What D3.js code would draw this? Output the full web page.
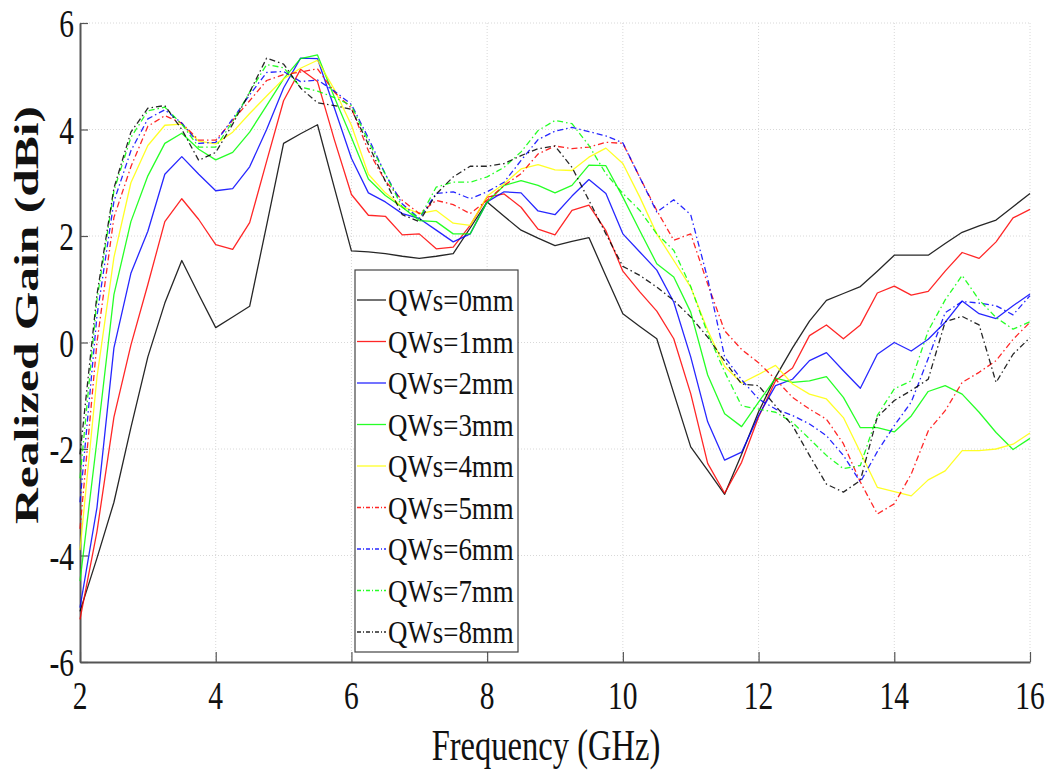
<!DOCTYPE html>
<html>
<head>
<meta charset="utf-8">
<script src="https://cdnjs.cloudflare.com/ajax/libs/d3/7.8.5/d3.min.js"></script>
<style>
  body { margin: 0; background: #fff; }
  text { font-family: "Liberation Serif", "Times New Roman", serif; fill: #111; }
</style>
</head>
<body>
<svg id="chart" width="1054" height="774"></svg>
<script>
// frequency samples (GHz)
var freq = [2, 2.25, 2.5, 2.75, 3, 3.25, 3.5, 3.75, 4, 4.25, 4.5, 4.75, 5, 5.25, 5.5, 5.75,
  6, 6.25, 6.5, 6.75, 7, 7.25, 7.5, 7.75, 8, 8.25, 8.5, 8.75, 9, 9.25, 9.5, 9.75,
  10, 10.25, 10.5, 10.75, 11, 11.25, 11.5, 11.75, 12, 12.25, 12.5, 12.75, 13, 13.25, 13.5, 13.75,
  14, 14.25, 14.5, 14.75, 15, 15.25, 15.5, 15.75, 16];

// realized gain (dBi)
var qw0 = [-5.05, -4.05, -3.0, -1.6, -0.27, 0.74, 1.54, 0.9, 0.28, 0.48, 0.68, 2.2, 3.74, 3.92, 4.09, 2.9,
  1.72, 1.7, 1.67, 1.62, 1.58, 1.62, 1.67, 2.15, 2.64, 2.37, 2.11, 1.96, 1.82, 1.9, 1.97, 1.25,
  0.54, 0.3, 0.07, -0.95, -1.96, -2.4, -2.85, -2.1, -1.3, -0.65, -0.1, 0.4, 0.79, 0.92, 1.05, 1.34,
  1.64, 1.64, 1.64, 1.86, 2.07, 2.19, 2.3, 2.55, 2.8];
var qw1 = [-5.2, -3.55, -1.4, -0.05, 1.09, 2.27, 2.7, 2.31, 1.84, 1.75, 2.25, 3.4, 4.54, 5.13, 4.9, 3.8,
  2.78, 2.39, 2.37, 2.02, 2.04, 1.76, 1.79, 2.2, 2.73, 2.79, 2.54, 2.13, 2.02, 2.48, 2.58, 2.1,
  1.34, 0.95, 0.59, 0.07, -0.96, -2.27, -2.83, -2.25, -1.4, -0.72, -0.48, 0.13, 0.33, 0.07, 0.33, 0.93,
  1.06, 0.89, 0.96, 1.34, 1.69, 1.58, 1.89, 2.34, 2.5];
var qw2 = [-4.98, -3.1, -0.1, 1.3, 2.09, 3.16, 3.49, 3.16, 2.85, 2.89, 3.3, 4.0, 4.78, 5.34, 5.33, 4.4,
  3.46, 2.81, 2.64, 2.42, 2.33, 2.11, 1.89, 2.04, 2.64, 2.83, 2.81, 2.47, 2.4, 2.75, 3.06, 2.8,
  2.04, 1.7, 1.36, 0.76, -0.27, -1.49, -2.21, -2.06, -1.37, -0.81, -0.69, -0.34, -0.19, -0.53, -0.86, -0.22,
  0.0, -0.16, 0.06, 0.38, 0.78, 0.54, 0.45, 0.69, 0.91];
var qw3 = [-4.48, -1.84, 0.9, 2.27, 3.13, 3.74, 3.93, 3.63, 3.43, 3.57, 3.95, 4.45, 4.95, 5.33, 5.4, 4.6,
  3.85, 3.07, 2.76, 2.54, 2.29, 2.27, 2.04, 2.04, 2.64, 2.95, 3.04, 2.95, 2.81, 2.95, 3.33, 3.32,
  2.73, 2.1, 1.48, 1.23, 0.57, -0.61, -1.34, -1.58, -1.12, -0.67, -0.75, -0.72, -0.64, -1.03, -1.6, -1.6,
  -1.68, -1.38, -0.92, -0.81, -0.97, -1.31, -1.69, -2.01, -1.8];
var qw4 = [-3.9, -0.65, 1.6, 3.0, 3.7, 4.08, 4.1, 3.78, 3.73, 3.95, 4.3, 4.63, 4.95, 5.15, 5.3, 4.75,
  4.08, 3.16, 2.81, 2.55, 2.42, 2.48, 2.24, 2.2, 2.75, 2.98, 3.26, 3.34, 3.24, 3.23, 3.48, 3.65,
  3.36, 2.73, 2.04, 1.54, 1.04, 0.23, -0.45, -0.76, -0.6, -0.43, -0.78, -0.97, -1.06, -1.41, -2.06, -2.72,
  -2.8, -2.88, -2.58, -2.41, -2.03, -2.03, -2.0, -1.91, -1.7];
var qw5 = [-3.5, 0.0, 2.35, 3.3, 4.06, 4.26, 4.12, 3.8, 3.8, 4.17, 4.54, 4.92, 5.03, 5.08, 5.14, 4.7,
  4.4, 3.6, 3.03, 2.67, 2.42, 2.67, 2.59, 2.42, 2.67, 2.95, 3.17, 3.54, 3.69, 3.64, 3.67, 3.76,
  3.74, 3.1, 2.48, 1.92, 2.04, 1.1, 0.22, -0.13, -0.38, -0.69, -1.03, -1.25, -1.44, -1.9, -2.62, -3.22,
  -3.03, -2.47, -1.66, -1.28, -0.75, -0.56, -0.34, 0.06, 0.38];
var qw6 = [-3.0, 0.5, 2.65, 3.6, 4.2, 4.37, 4.12, 3.74, 3.76, 4.2, 4.65, 5.07, 5.09, 4.9, 4.93, 4.72,
  4.47, 3.84, 3.16, 2.6, 2.33, 2.8, 2.83, 2.7, 2.83, 3.01, 3.42, 3.81, 3.97, 4.04, 3.96, 3.88,
  3.75, 3.1, 2.45, 2.68, 2.4, 1.2, -0.27, -0.7, -1.06, -1.25, -1.37, -1.53, -1.75, -2.12, -2.62, -2.05,
  -1.56, -1.12, -0.3, 0.56, 0.77, 0.74, 0.69, 0.52, 0.88];
var qw7 = [-2.55, 0.8, 2.85, 3.85, 4.35, 4.42, 4.1, 3.67, 3.67, 4.15, 4.7, 5.22, 5.16, 4.8, 4.72, 4.6,
  4.45, 3.78, 3.16, 2.54, 2.33, 2.92, 3.01, 3.01, 3.11, 3.29, 3.58, 3.98, 4.17, 4.11, 3.7, 3.17,
  2.8, 2.48, 2.04, 1.73, 1.05, 0.17, -0.55, -1.19, -1.25, -1.31, -1.5, -1.81, -2.12, -2.37, -2.31, -1.37,
  -0.87, -0.72, 0.22, 0.8, 1.26, 0.8, 0.47, 0.25, 0.39];
var qw8 = [-2.1, 0.9, 2.9, 3.95, 4.4, 4.45, 4.0, 3.42, 3.57, 4.1, 4.7, 5.34, 5.23, 4.78, 4.5, 4.45,
  4.38, 3.72, 3.03, 2.4, 2.27, 2.79, 3.11, 3.31, 3.31, 3.36, 3.51, 3.64, 3.69, 3.29, 2.67, 2.04,
  1.43, 1.26, 1.04, 0.79, 0.48, 0.1, -0.35, -0.78, -0.81, -1.19, -1.56, -2.12, -2.66, -2.81, -2.59, -1.4,
  -1.09, -0.9, -0.69, 0.39, 0.49, 0.33, -0.75, -0.22, 0.09];

var seriesNames = ["QWs=0mm", "QWs=1mm", "QWs=2mm", "QWs=3mm", "QWs=4mm",
  "QWs=5mm", "QWs=6mm", "QWs=7mm", "QWs=8mm"];
var seriesColors = ["#000000", "#ff0000", "#0000ff", "#00ff00", "#ffff00",
  "#ff0000", "#0000ff", "#00ff00", "#000000"];
var seriesDashed = [false, false, false, false, false, true, true, true, true];
var seriesValues = [qw0, qw1, qw2, qw3, qw4, qw5, qw6, qw7, qw8];

var xTicks = [2, 4, 6, 8, 10, 12, 14, 16];
var yTicks = [-6, -4, -2, 0, 2, 4, 6];

var svg = d3.select("#chart");
// plot box (window.top is reserved, so not called top)
var plotL = 80, plotR = 1030, plotT = 23, plotB = 662;

var x = d3.scaleLinear().domain([2, 16]).range([plotL, plotR]);
var y = d3.scaleLinear().domain([-6, 6]).range([plotB, plotT]);

// dotted grid
var grid = svg.append("g");
grid.selectAll(".gx").data(xTicks.slice(1)).enter().append("line")
  .attr("x1", function (d) { return x(d); }).attr("x2", function (d) { return x(d); })
  .attr("y1", plotT).attr("y2", plotB)
  .attr("stroke", "#d8d8d8").attr("stroke-dasharray", "1,2");
grid.selectAll(".gy").data(yTicks.slice(1)).enter().append("line")
  .attr("x1", plotL).attr("x2", plotR)
  .attr("y1", function (d) { return y(d); }).attr("y2", function (d) { return y(d); })
  .attr("stroke", "#d8d8d8").attr("stroke-dasharray", "1,2");

// axes (ticks inside, labels drawn separately)
var xAxis = svg.append("g")
  .attr("transform", "translate(0," + plotB + ")")
  .call(d3.axisTop(x).tickValues(xTicks).tickSizeInner(10).tickSizeOuter(0).tickFormat(""));
var yAxis = svg.append("g")
  .attr("transform", "translate(" + plotL + ",0)")
  .call(d3.axisRight(y).tickValues(yTicks).tickSizeInner(8).tickSizeOuter(0).tickFormat(""));
[xAxis, yAxis].forEach(function (a) {
  a.select(".domain").attr("stroke", "#555").attr("stroke-width", 2);
  a.selectAll(".tick line").attr("stroke", "#555").attr("stroke-width", 1.2);
});

// tick labels (condensed serif like the original)
svg.append("g").selectAll("text").data(xTicks).enter().append("text")
  .attr("transform", function (d) { return "translate(" + x(d) + ",709) scale(0.72,1)"; })
  .attr("text-anchor", "middle")
  .style("font-size", "41px")
  .text(function (d) { return d; });
svg.append("g").selectAll("text").data(yTicks).enter().append("text")
  .attr("transform", function (d) { return "translate(74," + (y(d) + 14) + ") scale(0.72,1)"; })
  .attr("text-anchor", "end")
  .style("font-size", "41px")
  .text(function (d) { return d; });

// axis titles
svg.append("text")
  .attr("transform", "translate(546,760) scale(0.74,1)")
  .attr("text-anchor", "middle")
  .style("font-size", "44px")
  .text("Frequency (GHz)");
svg.append("text")
  .attr("transform", "translate(38,315) rotate(-90) scale(1.5,1)")
  .attr("text-anchor", "middle")
  .style("font-size", "33px")
  .style("font-weight", "bold")
  .text("Realized Gain (dBi)");

// curves
var line = d3.line()
  .x(function (d, i) { return x(freq[i]); })
  .y(function (d) { return y(d); });

var curves = svg.append("g");
seriesValues.forEach(function (vals, k) {
  curves.append("path")
    .datum(vals)
    .attr("d", line)
    .attr("fill", "none")
    .attr("stroke", seriesColors[k])
    .attr("stroke-width", 1.3)
    .attr("stroke-opacity", 0.85)
    .attr("stroke-linejoin", "round")
    .attr("stroke-dasharray", seriesDashed[k] ? "6,3,1.5,3" : null);
});

// legend
var lg = svg.append("g");
lg.append("rect")
  .attr("x", 355).attr("y", 270).attr("width", 163).attr("height", 382)
  .attr("fill", "#fff").attr("stroke", "#444").attr("stroke-width", 1.2);
var rows = lg.selectAll(".row").data(seriesNames).enter().append("g")
  .attr("transform", function (d, i) { return "translate(0," + (300 + i * 41.5) + ")"; });
rows.append("line")
  .attr("x1", 357).attr("x2", 386).attr("y1", 0).attr("y2", 0)
  .attr("stroke", function (d, i) { return seriesColors[i]; })
  .attr("stroke-width", 1.3)
  .attr("stroke-opacity", 0.85)
  .attr("stroke-dasharray", function (d, i) { return seriesDashed[i] ? "4,2,1,2" : null; });
rows.append("text")
  .attr("transform", "translate(388,11) scale(0.84,1)")
  .style("font-size", "32px")
  .text(function (d) { return d; });
</script>
</body>
</html>
